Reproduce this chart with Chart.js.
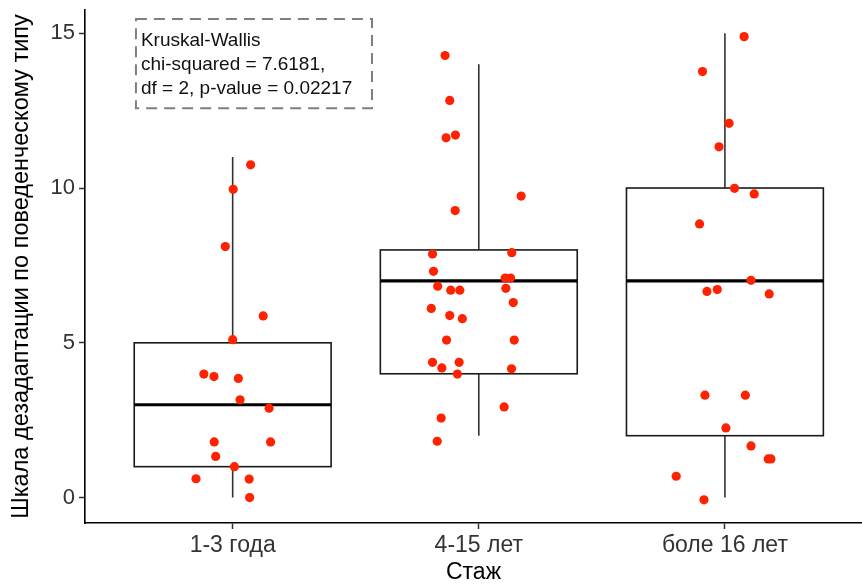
<!DOCTYPE html>
<html>
<head>
<meta charset="utf-8">
<script src="https://cdn.jsdelivr.net/npm/chart.js@4/dist/chart.umd.min.js"></script>
<style>
  html, body { margin: 0; padding: 0; background: #fff; }
  #wrap { width: 862px; height: 586px; }
</style>
</head>
<body>
<div id="wrap"><canvas id="chart"></canvas></div>
<script>
// groups on the x axis
var categories = ['1-3 года', '4-15 лет', 'боле 16 лет'];

// box statistics per group
var q1 = [1, 4, 2];
var medians = [3, 7, 7];
var q3 = [5, 8, 10];
var whiskerLow = [0, 2, 0];
var whiskerHigh = [11, 14, 15];

// jittered observations: horizontal offset from group centre, value
var jitterX1 = [0.073, 0.002, -0.030, 0.124, 0, -0.117, -0.076, 0.023, 0.030, 0.148, -0.075, 0.154, -0.069, 0.007, -0.149, 0.067, 0.069];
var values1  = [10.75, 9.96, 8.11, 5.87, 5.10, 3.99, 3.91, 3.85, 3.16, 2.89, 1.80, 1.80, 1.33, 1.00, 0.61, 0.60, 0.00];

var jitterX2 = [-0.137, -0.118, -0.133, -0.095, 0.172, -0.096, -0.188, 0.134, -0.184, 0.107, 0.129, -0.167, -0.114, -0.077, 0.110, 0.140, -0.193, -0.118, -0.067, -0.131, 0.144, -0.188, -0.150, -0.080, 0.133, -0.087, 0.103, -0.153, -0.169];
var values2  = [14.28, 12.83, 11.62, 11.71, 9.74, 9.27, 7.87, 7.91, 7.31, 7.09, 7.09, 6.83, 6.70, 6.70, 6.76, 6.30, 6.11, 5.88, 5.78, 5.09, 5.09, 4.37, 4.19, 4.37, 4.16, 3.99, 2.93, 2.57, 1.82];

var jitterX3 = [0.078, -0.091, 0.017, -0.024, 0.039, 0.119, -0.103, 0.106, -0.073, -0.031, 0.180, -0.081, 0.083, 0.004, 0.106, 0.176, 0.187, -0.198, -0.085];
var values3  = [14.89, 13.76, 12.09, 11.33, 9.99, 9.81, 8.84, 7.02, 6.66, 6.72, 6.58, 3.31, 3.31, 2.25, 1.67, 1.25, 1.25, 0.69, -0.07];

var yTicks = [0, 5, 10, 15];

var testLines = ['Kruskal-Wallis', 'chi-squared = 7.6181,', 'df = 2, p-value = 0.02217'];

var FONT = '"Liberation Sans", Arial, Helvetica, sans-serif';

function points(offsets, vals, group) {
    return vals.map(function (v, i) { return {x: group + offsets[i], y: v}; });
}

// boxes and whiskers, drawn under the points
var boxPlugin = {
    id: 'boxes',
    beforeDatasetsDraw: function (chart) {
        var ctx = chart.ctx, xs = chart.scales.x, ys = chart.scales.y;
        ctx.save();
        for (var i = 0; i < categories.length; i++) {
            var cx = xs.getPixelForValue(i);
            var l = xs.getPixelForValue(i - 0.4), r = xs.getPixelForValue(i + 0.4);
            var top = ys.getPixelForValue(q3[i]), bot = ys.getPixelForValue(q1[i]);
            ctx.strokeStyle = '#333';
            ctx.lineWidth = 1.6;
            ctx.beginPath();
            ctx.moveTo(cx, ys.getPixelForValue(whiskerHigh[i]));
            ctx.lineTo(cx, top);
            ctx.moveTo(cx, bot);
            ctx.lineTo(cx, ys.getPixelForValue(whiskerLow[i]));
            ctx.stroke();
            ctx.fillStyle = '#fff';
            ctx.fillRect(l, top, r - l, bot - top);
            ctx.strokeStyle = '#1a1a1a';
            ctx.strokeRect(l, top, r - l, bot - top);
            var m = ys.getPixelForValue(medians[i]);
            ctx.lineWidth = 3.2;
            ctx.strokeStyle = '#000';
            ctx.beginPath();
            ctx.moveTo(l, m);
            ctx.lineTo(r, m);
            ctx.stroke();
        }
        ctx.restore();
    },
    afterDraw: function (chart) {
        // test result label in a dashed frame
        var ctx = chart.ctx, xs = chart.scales.x, ys = chart.scales.y;
        var l = xs.getPixelForValue(-0.393), r = xs.getPixelForValue(0.566);
        var t = ys.getPixelForValue(15.46), b = ys.getPixelForValue(12.58);
        ctx.save();
        ctx.setLineDash([11, 7]);
        ctx.strokeStyle = '#7f7f7f';
        ctx.lineWidth = 2;
        ctx.strokeRect(l, t, r - l, b - t);
        ctx.setLineDash([]);
        ctx.fillStyle = '#111';
        ctx.font = '19px ' + FONT;
        ctx.textBaseline = 'middle';
        for (var k = 0; k < testLines.length; k++) {
            ctx.fillText(testLines[k], l + 5, t + 22 + k * 24);
        }
        ctx.restore();
    }
};

var ctx = document.getElementById('chart').getContext('2d');
var chart = new Chart(ctx, {
    type: 'scatter',
    data: {
        datasets: [
            {data: points(jitterX1, values1, 0)},
            {data: points(jitterX2, values2, 1)},
            {data: points(jitterX3, values3, 2)}
        ].map(function (d) {
            d.backgroundColor = '#ff2200';
            d.borderWidth = 0;
            d.pointRadius = 4.6;
            return d;
        })
    },
    options: {
        responsive: true,
        maintainAspectRatio: false,
        animation: false,
        layout: {autoPadding: false, padding: {top: 10, right: 0, left: 0, bottom: 0}},
        plugins: {legend: {display: false}, tooltip: {enabled: false}},
        scales: {
            x: {
                type: 'linear',
                min: -0.6,
                max: 2.557,
                afterBuildTicks: function (s) { s.ticks = categories.map(function (c, i) { return {value: i}; }); },
                afterFit: function (s) { s.height = 63; s.paddingLeft = 0; s.paddingRight = 0; },
                ticks: {
                    callback: function (v) { return categories[v]; },
                    font: {family: FONT, size: 23},
                    color: '#333',
                    padding: 3,
                    maxRotation: 0
                },
                grid: {drawOnChartArea: false, tickLength: 6, color: '#333', tickWidth: 1.5},
                border: {color: '#000', width: 1.6},
                title: {display: true, text: 'Стаж', font: {family: FONT, size: 23}, color: '#000', padding: 0}
            },
            y: {
                min: -0.82,
                max: 15.75,
                afterBuildTicks: function (s) { s.ticks = yTicks.map(function (v) { return {value: v}; }); },
                afterFit: function (s) { s.width = 85; s.paddingTop = 0; s.paddingBottom = 0; },
                ticks: {
                    font: {family: FONT, size: 22},
                    color: '#333',
                    padding: 4
                },
                grid: {drawOnChartArea: false, tickLength: 6, color: '#333', tickWidth: 1.5},
                border: {color: '#000', width: 1.6},
                title: {display: true, text: 'Шкала дезадаптации по поведенческому типу', font: {family: FONT, size: 23.5}, color: '#000', padding: {top: 7, bottom: 0}}
            }
        }
    },
    plugins: [boxPlugin]
});
</script>
</body>
</html>
